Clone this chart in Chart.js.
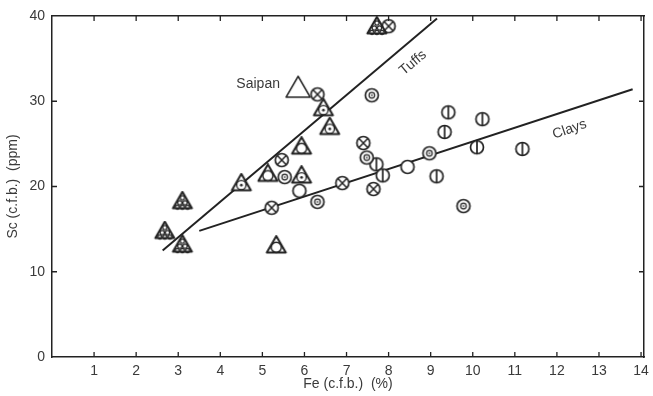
<!DOCTYPE html>
<html>
<head>
<meta charset="utf-8">
<script src="https://cdn.jsdelivr.net/npm/chart.js@4.4.1/dist/chart.umd.min.js"></script>
<style>
  html, body { margin: 0; padding: 0; background: #fff; }
  #wrap { width: 653px; height: 396px; }
</style>
</head>
<body>
<div id="wrap"><canvas id="scChart" width="653" height="396"></canvas></div>
<script>
// Sc vs Fe (carbonate-free basis), grouped by sample symbol
const triHatched = [[2.68, 14.6], [3.1, 18.1], [3.1, 13.0], [7.72, 38.6]];
const triDotted = [[4.5, 20.2], [6.45, 29.0], [6.6, 26.8], [5.93, 21.1]];
const triRinged = [[5.93, 24.5], [5.13, 21.3], [5.33, 12.9]];
const saipan = [[5.85, 31.3]];
const circCross = [[6.31, 30.8], [5.46, 23.1], [6.9, 20.4], [5.22, 17.5], [7.4, 25.1], [7.64, 19.7], [8.0, 38.8]];
const circDot = [[5.53, 21.1], [6.31, 18.2], [7.6, 30.7], [7.48, 23.4], [8.97, 23.9], [9.78, 17.7]];
const circBar = [[7.71, 22.6], [7.86, 21.3], [9.33, 26.4], [9.14, 21.2], [9.42, 28.7], [10.23, 27.9], [10.1, 24.6], [11.18, 24.4]];
const circOpen = [[5.88, 19.5], [8.45, 22.3]];

// regression lines (end points)
const tuffsLine = [[2.63, 12.5], [9.15, 39.7]];
const claysLine = [[3.5, 14.8], [13.8, 31.4]];

const xTicks = [1, 2, 3, 4, 5, 6, 7, 8, 9, 10, 11, 12, 13, 14];
const yTicks = [0, 10, 20, 30, 40];

// text placed in data units: [text, x, y, angle]
const notes = [
    ['Saipan', 4.9, 32.0, 0],
    ['Tuffs', 8.58, 34.5, -40],
    ['Clays', 12.3, 26.7, -19]
];

const INK = '#222';
const TEXT = '#3a3a3a';
const FONT = '"Liberation Sans", Arial, sans-serif';

const pts = arr => arr.map(p => ({ x: p[0], y: p[1] }));

function markerCanvas(kind, big) {
    const s = big ? 32 : 24;
    const c = document.createElement('canvas');
    c.width = s; c.height = s;
    const g = c.getContext('2d');
    const cx = s / 2, cy = s / 2;
    g.strokeStyle = INK;
    g.fillStyle = '#fff';
    g.lineWidth = 1.7;

    if (kind.startsWith('circ')) {
        const r = 6.5;
        g.beginPath(); g.arc(cx, cy, r, 0, Math.PI * 2); g.fill(); g.stroke();
        if (kind === 'circCross') {
            const d = r * 0.68;
            g.lineWidth = 1.5;
            g.beginPath();
            g.moveTo(cx - d, cy - d); g.lineTo(cx + d, cy + d);
            g.moveTo(cx + d, cy - d); g.lineTo(cx - d, cy + d);
            g.stroke();
        } else if (kind === 'circDot') {
            g.lineWidth = 1.2;
            g.beginPath(); g.arc(cx, cy, 2.8, 0, Math.PI * 2); g.stroke();
            g.fillStyle = '#888';
            g.beginPath(); g.arc(cx, cy, 1.2, 0, Math.PI * 2); g.fill();
        } else if (kind === 'circBar') {
            g.beginPath(); g.moveTo(cx, cy - r); g.lineTo(cx, cy + r); g.stroke();
        }
        return c;
    }

    // triangles, centred on the centroid
    const side = big ? 24 : 19;
    const h = side * Math.sqrt(3) / 2;
    const top = cy - h * 2 / 3, base = cy + h / 3;
    g.lineWidth = big ? 1.6 : 2;
    g.lineJoin = 'round';
    g.beginPath();
    g.moveTo(cx, top); g.lineTo(cx + side / 2, base); g.lineTo(cx - side / 2, base);
    g.closePath(); g.fill(); g.stroke();
    const rin = h / 3;
    if (kind === 'triRinged') {
        g.lineWidth = 1.5;
        g.beginPath(); g.arc(cx, cy + 0.3, rin - 0.4, 0, Math.PI * 2); g.stroke();
    } else if (kind === 'triDotted') {
        g.lineWidth = 1.4;
        g.beginPath(); g.arc(cx, cy + 0.3, rin - 0.8, 0, Math.PI * 2); g.stroke();
        g.fillStyle = INK;
        g.beginPath(); g.arc(cx, cy + 0.3, 1.4, 0, Math.PI * 2); g.fill();
    } else if (kind === 'triHatched') {
        // small ring pattern inside the triangle
        g.lineWidth = 1.2;
        const rr = 2.1;
        const rows = [[0, -h * 0.27], [-2.6, h * 0.03], [2.6, h * 0.03], [-5.1, h * 0.3], [0, h * 0.3], [5.1, h * 0.3]];
        rows.forEach(([dx, dy]) => {
            g.beginPath(); g.arc(cx + dx, cy + dy - 0.5, rr, 0, Math.PI * 2); g.stroke();
        });
    }
    return c;
}

function scatterSet(data, kind, big) {
    return {
        type: 'scatter',
        data: pts(data),
        pointStyle: markerCanvas(kind, big),
        pointRadius: 8,
        order: 1
    };
}

function lineSet(data) {
    return {
        type: 'line',
        data: pts(data),
        borderColor: INK,
        borderWidth: 2,
        pointRadius: 0,
        fill: false,
        order: 2
    };
}

// inward tick marks on all four sides plus the text notes
const framePlugin = {
    id: 'frameTicks',
    afterDatasetsDraw(chart) {
        const { ctx, chartArea: a, scales } = chart;
        const len = 5;
        ctx.save();
        ctx.strokeStyle = INK;
        ctx.lineWidth = 1.3;
        ctx.beginPath();
        xTicks.forEach(v => {
            const px = scales.x.getPixelForValue(v);
            ctx.moveTo(px, a.bottom); ctx.lineTo(px, a.bottom - len);
            ctx.moveTo(px, a.top); ctx.lineTo(px, a.top + len);
        });
        yTicks.slice(1, -1).forEach(v => {
            const py = scales.y.getPixelForValue(v);
            ctx.moveTo(a.left, py); ctx.lineTo(a.left + len, py);
            ctx.moveTo(a.right, py); ctx.lineTo(a.right - len, py);
        });
        ctx.stroke();

        ctx.fillStyle = TEXT;
        ctx.font = '14px ' + FONT;
        ctx.textAlign = 'center';
        ctx.textBaseline = 'middle';
        notes.forEach(([t, x, y, ang]) => {
            ctx.save();
            ctx.translate(scales.x.getPixelForValue(x), scales.y.getPixelForValue(y));
            ctx.rotate(ang * Math.PI / 180);
            ctx.fillText(t, 0, 0);
            ctx.restore();
        });
        ctx.restore();
    }
};

// fixed box sizes so the plot frame sits at the same place every time
const fixBox = (w, h) => s => {
    if (w !== null) s.width = w;
    if (h !== null) s.height = h;
    s.paddingLeft = 0; s.paddingRight = 0;
    s.paddingTop = 0; s.paddingBottom = 0;
};

const border = { display: true, color: INK, width: 1.5 };
const noGrid = { drawOnChartArea: false, drawTicks: false };
const tickFont = { family: FONT, size: 14 };
const titleFont = { family: FONT, size: 14 };

new Chart(document.getElementById('scChart'), {
    data: {
        datasets: [
            lineSet(tuffsLine),
            lineSet(claysLine),
            scatterSet(triHatched, 'triHatched'),
            scatterSet(triDotted, 'triDotted'),
            scatterSet(triRinged, 'triRinged'),
            scatterSet(saipan, 'tri', true),
            scatterSet(circCross, 'circCross'),
            scatterSet(circDot, 'circDot'),
            scatterSet(circBar, 'circBar'),
            scatterSet(circOpen, 'circOpen')
        ]
    },
    options: {
        responsive: false,
        animation: false,
        layout: { padding: 0 },
        plugins: { legend: { display: false }, tooltip: { enabled: false } },
        scales: {
            x: {
                type: 'linear', position: 'bottom', min: 0, max: 14.07,
                border, grid: noGrid,
                afterBuildTicks: s => { s.ticks = xTicks.map(v => ({ value: v })); },
                afterFit: fixBox(null, 39),
                ticks: { color: TEXT, font: tickFont, padding: 6, maxRotation: 0 },
                title: {
                    display: true, text: 'Fe (c.f.b.)  (%)', color: TEXT,
                    font: titleFont, padding: { top: 0, bottom: 3 }
                }
            },
            x2: {
                type: 'linear', position: 'top', min: 0, max: 14.07, display: true,
                border, grid: noGrid, ticks: { display: false },
                afterFit: fixBox(null, 16)
            },
            y: {
                type: 'linear', position: 'left', min: 0, max: 40,
                border, grid: noGrid,
                afterBuildTicks: s => { s.ticks = yTicks.map(v => ({ value: v })); },
                afterFit: fixBox(52, null),
                ticks: { color: TEXT, font: tickFont, padding: 7 },
                title: {
                    display: true, text: 'Sc (c.f.b.)  (ppm)', color: TEXT,
                    font: titleFont, padding: { top: 5, bottom: 0 }
                }
            },
            y2: {
                type: 'linear', position: 'right', min: 0, max: 40, display: true,
                border, grid: noGrid, ticks: { display: false },
                afterFit: fixBox(8, null)
            }
        }
    },
    plugins: [framePlugin]
});
</script>
</body>
</html>
